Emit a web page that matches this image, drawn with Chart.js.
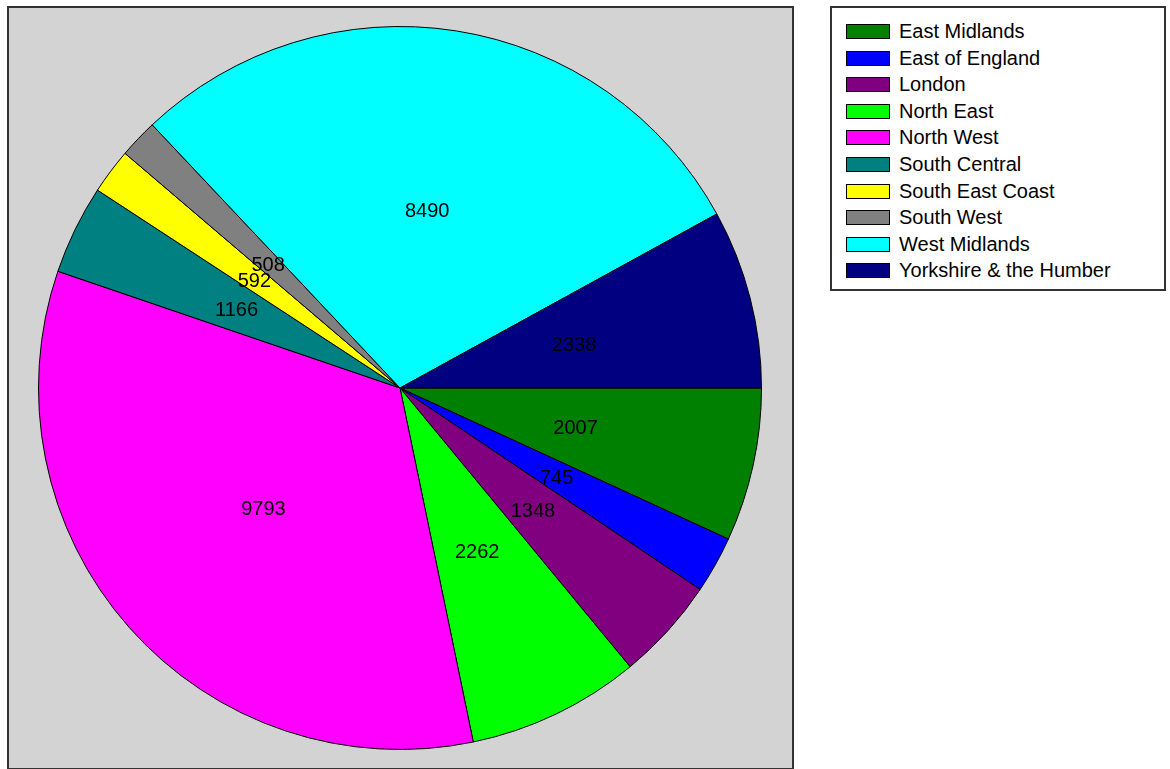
<!DOCTYPE html>
<html>
<head>
<meta charset="utf-8">
<script src="https://cdn.jsdelivr.net/npm/chart.js@4/dist/chart.umd.min.js"></script>
<style>
  body { margin: 0; background: #fff; font-family: "Liberation Sans", Arial, sans-serif; }
  #wrap { position: absolute; left: 0; top: 0; width: 1170px; height: 769px; }
  #legend {
    position: absolute; left: 830px; top: 6px; width: 336px; height: 285px;
    border: 2px solid #333; background: #fff; box-sizing: border-box;
  }
  .item { position: absolute; left: 14px; height: 26px; font-size: 20px; color: #000; line-height: 26px; white-space: nowrap; }
  .swatch { position: absolute; left: 0; top: 6px; width: 42px; height: 13px; border: 1px solid #000; }
  .txt { position: absolute; left: 53px; top: 0; }
</style>
</head>
<body>
<div id="wrap">
  <canvas id="chart1" width="1170" height="769"></canvas>
  <div id="legend"></div>
</div>
<script>
// regions and counts
var regions = ['East Midlands', 'East of England', 'London', 'North East', 'North West',
  'South Central', 'South East Coast', 'South West', 'West Midlands', 'Yorkshire & the Humber']
var counts = [2007, 745, 1348, 2262, 9793, 1166, 592, 508, 8490, 2338]
var colours = ['#008000', '#0000ff', '#800080', '#00ff00', '#ff00ff',
  '#008080', '#ffff00', '#808080', '#00ffff', '#000080']

// grey plot box behind the pie
const plotBox = {
  id: 'plotBox',
  beforeDraw(chart) {
    const ctx = chart.ctx
    ctx.save()
    ctx.fillStyle = '#d3d3d3'
    ctx.fillRect(8, 7, 785, 761)
    ctx.strokeStyle = '#333'
    ctx.lineWidth = 2
    ctx.strokeRect(8, 7, 785, 762)
    ctx.restore()
  }
}

// value labels at the middle of each slice
const sliceLabels = {
  id: 'sliceLabels',
  afterDatasetsDraw(chart) {
    const ctx = chart.ctx
    const meta = chart.getDatasetMeta(0)
    ctx.save()
    ctx.font = '20px "Liberation Sans", Arial, sans-serif'
    ctx.fillStyle = '#000'
    ctx.textAlign = 'center'
    ctx.textBaseline = 'middle'
    meta.data.forEach((arc, i) => {
      const p = arc.getCenterPoint()
      ctx.fillText(String(counts[i]), p.x - 1, p.y + 2)
    })
    ctx.restore()
  }
}

const ctx = document.getElementById('chart1').getContext('2d')
const chart1 = new Chart(ctx, {
  type: 'pie',
  data: {
    labels: regions,
    datasets: [{
      data: counts,
      backgroundColor: colours,
      borderColor: '#000',
      borderWidth: 1
    }]
  },
  options: {
    responsive: false,
    animation: false,
    rotation: 90,
    layout: { padding: { left: 38, right: 408, top: 26, bottom: 19 } },
    plugins: {
      legend: { display: false },
      tooltip: { enabled: false }
    }
  },
  plugins: [plotBox, sliceLabels]
})

// legend box on the right, built from the same arrays
var legend = document.getElementById('legend')
regions.forEach((name, i) => {
  var item = document.createElement('div')
  item.className = 'item'
  item.style.top = (10 + i * 26.6) + 'px'
  item.innerHTML = '<span class="swatch" style="background:' + colours[i] + '"></span><span class="txt"></span>'
  item.querySelector('.txt').textContent = name
  legend.appendChild(item)
})
</script>
</body>
</html>
